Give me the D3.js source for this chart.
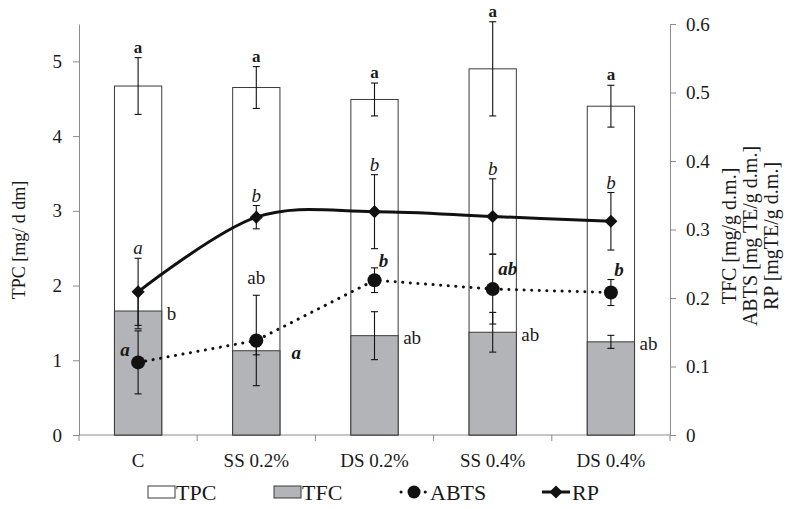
<!DOCTYPE html>
<html>
<head>
<meta charset="utf-8">
<script src="https://cdn.jsdelivr.net/npm/d3@7"></script>
<style>
  body { margin: 0; background: #fff; }
  text { font-family: "Liberation Serif", "Times New Roman", serif; fill: #1a1a1a; }
</style>
</head>
<body>
<div id="chart"></div>
<script>
// data
var categories = ["C", "SS 0.2%", "DS 0.2%", "SS 0.4%", "DS 0.4%"];
var tpc     = [4.67, 4.65, 4.49, 4.90, 4.40];   // left axis
var tpcErr  = [0.38, 0.28, 0.22, 0.63, 0.28];
var tfc     = [0.181, 0.123, 0.145, 0.150, 0.136]; // right axis
var tfcErr  = [0.026, 0.006, 0.035, 0.029, 0.0095];
var abts    = [0.106, 0.138, 0.226, 0.213, 0.208];
var abtsErr = [0.046, 0.066, 0.018, 0.051, 0.019];
var rp      = [0.209, 0.318, 0.326, 0.319, 0.312];
var rpErr   = [0.049, 0.017, 0.054, 0.055, 0.042];

var tpcLetters  = ["a", "a", "a", "a", "a"];
var tfcLetters  = ["b", "ab", "ab", "ab", "ab"];
var abtsLetters = ["a", "a", "b", "ab", "b"];
var rpLetters   = ["a", "b", "b", "b", "b"];

var leftTicks  = [0, 1, 2, 3, 4, 5];
var rightTicks = [0, 0.1, 0.2, 0.3, 0.4, 0.5, 0.6];

var W = 788, H = 509;
var plot = {left: 79, right: 670, top: 24, bottom: 435};

var svg = d3.select("#chart").append("svg")
    .attr("width", W)
    .attr("height", H);

var x = d3.scaleBand().domain(categories).range([plot.left, plot.right]);
var yL = d3.scaleLinear().domain([0, 5.5]).range([plot.bottom, plot.top]);
var yR = d3.scaleLinear().domain([0, 0.6]).range([plot.bottom, plot.top]);
var barW = x.bandwidth() * 0.4;
var cx = function(i) { return x(categories[i]) + x.bandwidth() / 2; };

// axes
var axisColor = "#8c8c8c";
var gl = svg.append("g")
    .attr("transform", "translate(" + plot.left + ",0)")
    .call(d3.axisLeft(yL).tickValues(leftTicks).tickSize(6).tickSizeOuter(0).tickPadding(11)
      .tickFormat(d3.format("d")));
var gr = svg.append("g")
    .attr("transform", "translate(" + plot.right + ",0)")
    .call(d3.axisRight(yR).tickValues(rightTicks).tickSize(6).tickSizeOuter(0).tickPadding(10)
      .tickFormat(function(d) { return d === 0 ? "0" : d.toFixed(1); }));
var gb = svg.append("g")
    .attr("transform", "translate(0," + plot.bottom + ")")
    .call(d3.axisBottom(x).tickSize(0).tickPadding(19));
gb.select(".domain").remove();
svg.append("line")
    .attr("x1", plot.left).attr("x2", plot.right)
    .attr("y1", plot.bottom).attr("y2", plot.bottom)
    .attr("stroke", axisColor);
svg.selectAll(".xtick")
  .data(categories.map(function(c) { return x(c); }).concat([plot.right]))
  .enter().append("line")
    .attr("x1", function(d) { return d; }).attr("x2", function(d) { return d; })
    .attr("y1", plot.bottom).attr("y2", plot.bottom + 6)
    .attr("stroke", axisColor);
[gl, gr, gb].forEach(function(g) {
  g.selectAll(".domain, .tick line").attr("stroke", axisColor);
  g.selectAll("text").style("font-size", "19px").style("font-family", "Liberation Serif").attr("fill", "#1a1a1a");
});

// axis titles
svg.append("text")
    .attr("transform", "translate(25,240) rotate(-90)")
    .attr("text-anchor", "middle")
    .style("font-size", "18px")
    .text("TPC  [mg/ d dm]");
var rtitle = svg.append("text")
    .attr("transform", "translate(736,236) rotate(-90)")
    .attr("text-anchor", "middle")
    .style("font-size", "20px");
["TFC [mg/g d.m.]", "ABTS [mg TE/g d.m.]", "RP [mgTE/g d.m.]"].forEach(function(t, i) {
  rtitle.append("tspan").attr("x", 0).attr("dy", i === 0 ? 0 : 21).text(t);
});

// bars
svg.selectAll(".tpc").data(tpc).enter().append("rect")
    .attr("x", function(d, i) { return cx(i) - barW / 2; })
    .attr("width", barW)
    .attr("y", function(d) { return yL(d); })
    .attr("height", function(d) { return plot.bottom - yL(d); })
    .attr("fill", "#fff").attr("stroke", "#3a3a3a").attr("stroke-width", 1);
svg.selectAll(".tfc").data(tfc).enter().append("rect")
    .attr("x", function(d, i) { return cx(i) - barW / 2; })
    .attr("width", barW)
    .attr("y", function(d) { return yR(d); })
    .attr("height", function(d) { return plot.bottom - yR(d); })
    .attr("fill", "#b3b4b7").attr("stroke", "#3a3a3a").attr("stroke-width", 1);

// error bars
function errBars(vals, errs, scale) {
  var g = svg.append("g").attr("stroke", "#111").attr("stroke-width", 1.1);
  vals.forEach(function(v, i) {
    var xc = cx(i), y0 = scale(v - errs[i]), y1 = scale(v + errs[i]);
    g.append("line").attr("x1", xc).attr("x2", xc).attr("y1", y0).attr("y2", y1);
    g.append("line").attr("x1", xc - 3.5).attr("x2", xc + 3.5).attr("y1", y0).attr("y2", y0);
    g.append("line").attr("x1", xc - 3.5).attr("x2", xc + 3.5).attr("y1", y1).attr("y2", y1);
  });
}
errBars(tpc, tpcErr, yL);
errBars(tfc, tfcErr, yR);

// lines
var abtsLine = d3.line()
    .x(function(d, i) { return cx(i); })
    .y(function(d) { return yR(d); });
var rpLine = d3.line()
    .x(function(d, i) { return cx(i); })
    .y(function(d) { return yR(d); })
    .curve(d3.curveCatmullRom.alpha(0));
svg.append("path").datum(abts).attr("d", abtsLine)
    .attr("fill", "none").attr("stroke", "#111").attr("stroke-width", 3)
    .attr("stroke-linecap", "round").attr("stroke-dasharray", "0.1,7.5");
svg.append("path").datum(rp).attr("d", rpLine)
    .attr("fill", "none").attr("stroke", "#111").attr("stroke-width", 3);

errBars(abts, abtsErr, yR);
errBars(rp, rpErr, yR);

// markers
svg.selectAll(".abtsDot").data(abts).enter().append("circle")
    .attr("cx", function(d, i) { return cx(i); })
    .attr("cy", function(d) { return yR(d); })
    .attr("r", 7).attr("fill", "#111");
var diamond = d3.symbol().type(d3.symbolDiamond2).size(110);
svg.selectAll(".rpDot").data(rp).enter().append("path")
    .attr("d", diamond)
    .attr("transform", function(d, i) { return "translate(" + cx(i) + "," + yR(d) + ")"; })
    .attr("fill", "#111");

// significance letters
svg.selectAll(".tpcLab").data(tpcLetters).enter().append("text")
    .attr("x", function(d, i) { return cx(i); })
    .attr("y", function(d, i) { return yL(tpc[i] + tpcErr[i]) - 5; })
    .attr("text-anchor", "middle")
    .style("font-size", "17px").style("font-weight", "bold")
    .text(function(d) { return d; });
svg.selectAll(".rpLab").data(rpLetters).enter().append("text")
    .attr("x", function(d, i) { return cx(i); })
    .attr("y", function(d, i) { return yR(rp[i] + rpErr[i]) - 4; })
    .attr("text-anchor", "middle")
    .style("font-size", "19px").style("font-style", "italic")
    .text(function(d) { return d; });
var abtsLabelOffset = [[-13, -13], [40, 12], [9, -20], [15, -21], [8, -23]];
svg.selectAll(".abtsLab").data(abtsLetters).enter().append("text")
    .attr("x", function(d, i) { return cx(i) + abtsLabelOffset[i][0]; })
    .attr("y", function(d, i) { return yR(abts[i]) + abtsLabelOffset[i][1]; })
    .attr("text-anchor", "middle").attr("dominant-baseline", "central")
    .style("font-size", "19px").style("font-style", "italic").style("font-weight", "bold")
    .text(function(d) { return d; });
// TFC letters sit right of the bar top, except SS 0.2% which is placed above
var tfcLabelOffset = [[barW / 2 + 5, 2, "start"], [0, -73, "middle"], [barW / 2 + 5, 2, "start"],
                      [barW / 2 + 5, 2, "start"], [barW / 2 + 5, 2, "start"]];
svg.selectAll(".tfcLab").data(tfcLetters).enter().append("text")
    .attr("x", function(d, i) { return cx(i) + tfcLabelOffset[i][0]; })
    .attr("y", function(d, i) { return yR(tfc[i]) + tfcLabelOffset[i][1]; })
    .attr("text-anchor", function(d, i) { return tfcLabelOffset[i][2]; })
    .attr("dominant-baseline", "central")
    .style("font-size", "19px")
    .text(function(d) { return d; });

// legend
var ly = 492;
var leg = svg.append("g");
leg.append("rect").attr("x", 148).attr("y", ly - 6).attr("width", 27).attr("height", 12)
    .attr("fill", "#fff").attr("stroke", "#3a3a3a");
leg.append("text").attr("x", 176).attr("y", ly + 8).style("font-size", "22px").text("TPC");
leg.append("rect").attr("x", 274).attr("y", ly - 6).attr("width", 27).attr("height", 12)
    .attr("fill", "#b3b4b7").attr("stroke", "#3a3a3a");
leg.append("text").attr("x", 302).attr("y", ly + 8).style("font-size", "22px").text("TFC");
leg.append("line").attr("x1", 401).attr("x2", 427).attr("y1", ly).attr("y2", ly)
    .attr("stroke", "#111").attr("stroke-width", 3).attr("stroke-linecap", "round")
    .attr("stroke-dasharray", "0.1,12");
leg.append("circle").attr("cx", 414).attr("cy", ly).attr("r", 6.5).attr("fill", "#111");
leg.append("text").attr("x", 430).attr("y", ly + 8).style("font-size", "22px").text("ABTS");
leg.append("line").attr("x1", 542).attr("x2", 570).attr("y1", ly).attr("y2", ly)
    .attr("stroke", "#111").attr("stroke-width", 3);
leg.append("path").attr("d", diamond).attr("transform", "translate(556," + ly + ")").attr("fill", "#111");
leg.append("text").attr("x", 572).attr("y", ly + 8).style("font-size", "22px").text("RP");
</script>
</body>
</html>
